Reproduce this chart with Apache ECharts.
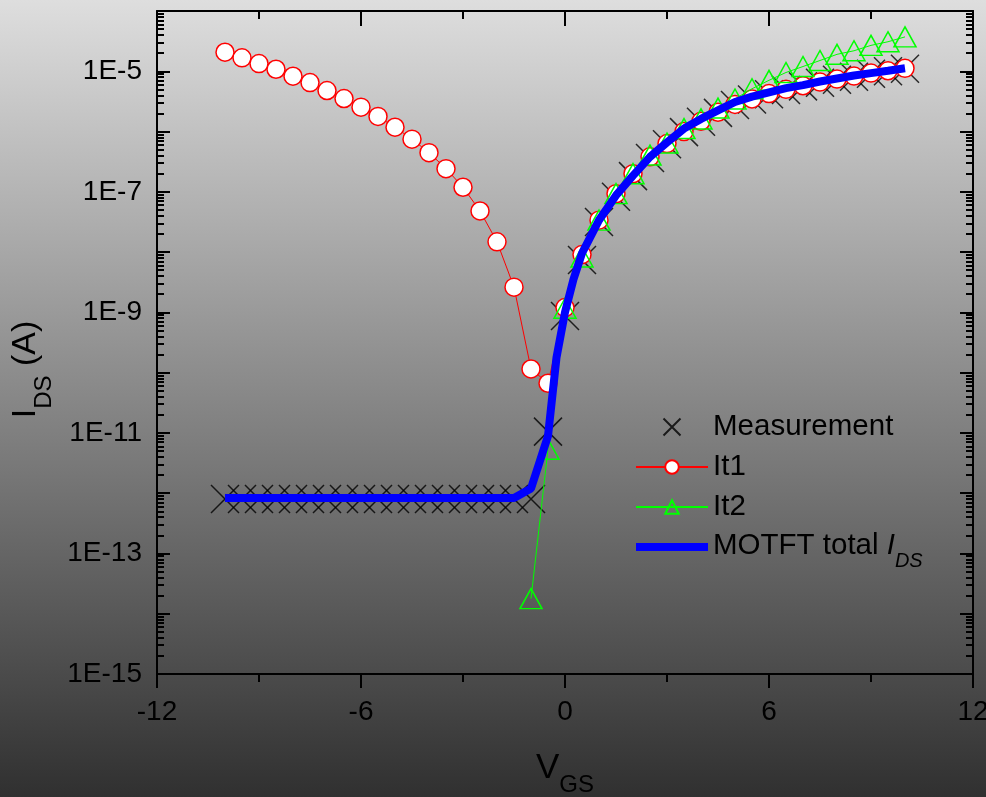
<!DOCTYPE html>
<html><head><meta charset="utf-8">
<script src="https://cdn.jsdelivr.net/npm/echarts@6/dist/echarts.min.js"></script>
<style>html,body{margin:0;padding:0;}#c{width:986px;height:797px;}</style>
</head><body><div id="c"></div>
<script>
// ---- data ----
const vgs = [-10,-9.5,-9,-8.5,-8,-7.5,-7,-6.5,-6,-5.5,-5,-4.5,-4,-3.5,-3,-2.5,-2,-1.5,-1,-0.5,0,0.5,1,1.5,2,2.5,3,3.5,4,4.5,5,5.5,6,6.5,7,7.5,8,8.5,9,9.5,10];
const measurement = [8.0e-13,8.0e-13,8.0e-13,8.0e-13,8.0e-13,8.0e-13,8.0e-13,8.0e-13,8.0e-13,8.0e-13,8.0e-13,8.0e-13,8.0e-13,8.0e-13,8.0e-13,8.0e-13,8.0e-13,8.0e-13,8.0e-13,1.05e-11,8.7e-10,7.4e-9,3.16e-8,8.3e-8,1.82e-7,3.63e-7,6.17e-7,9.77e-7,1.45e-6,2.04e-6,2.75e-6,3.39e-6,4.17e-6,4.9e-6,5.62e-6,6.46e-6,7.24e-6,8.13e-6,9.12e-6,1.0e-5,1.1e-5];
const it1 = [2.07e-5,1.67e-5,1.34e-5,1.08e-5,8.28e-6,6.50e-6,4.79e-6,3.53e-6,2.54e-6,1.78e-6,1.18e-6,7.48e-7,4.46e-7,2.42e-7,1.19e-7,4.81e-8,1.48e-8,2.62e-9,1.15e-10,6.67e-11,1.20e-9,9.1e-9,3.39e-8,9.33e-8,2.0e-7,3.8e-7,6.31e-7,1.0e-6,1.48e-6,2.09e-6,2.82e-6,3.47e-6,4.27e-6,5.01e-6,5.75e-6,6.61e-6,7.41e-6,8.32e-6,9.33e-6,1.02e-5,1.12e-5];
const it2 = [null,null,null,null,null,null,null,null,null,null,null,null,null,null,null,null,null,null,1.78e-14,5.37e-12,1.17e-9,8.3e-9,3.39e-8,9.33e-8,2.0e-7,4.07e-7,6.46e-7,1.12e-6,1.62e-6,2.45e-6,3.47e-6,5.13e-6,7.08e-6,9.55e-6,1.20e-5,1.51e-5,1.91e-5,2.19e-5,2.69e-5,3.09e-5,3.72e-5];
const vgsTotal = [-10,-9.5,-9,-8.5,-8,-7.5,-7,-6.5,-6,-5.5,-5,-4.5,-4,-3.5,-3,-2.5,-2,-1.5,-1,-0.5,-0.25,0,0.25,0.5,1,1.5,2,2.5,3,3.5,4,4.5,5,5.5,6,6.5,7,7.5,8,8.5,9,9.5,10];
const total = [8.3e-13,8.3e-13,8.3e-13,8.3e-13,8.3e-13,8.3e-13,8.3e-13,8.3e-13,8.3e-13,8.3e-13,8.3e-13,8.3e-13,8.3e-13,8.3e-13,8.3e-13,8.3e-13,8.3e-13,8.3e-13,1.2e-12,8.9e-12,1.78e-10,1.0e-9,3.55e-9,9.55e-9,3.39e-8,8.7e-8,1.86e-7,3.8e-7,6.6e-7,1.12e-6,1.62e-6,2.24e-6,3.09e-6,3.8e-6,4.47e-6,5.25e-6,5.89e-6,6.76e-6,7.59e-6,8.51e-6,9.33e-6,1.02e-5,1.12e-5];
const xTickValues = [-12,-6,0,6,12];
const yLabelValues = [1e-15,1e-13,1e-11,1e-9,1e-7,1e-5];
const yMajorValues = [1e-15,1e-14,1e-13,1e-12,1e-11,1e-10,1e-9,1e-8,1e-7,1e-6,1e-5,1e-4];
const legendNames = ['Measurement','It1','It2','MOTFT total IDS'];

// ---- helpers ----
function pairs(xs, ys){ const out=[]; for(let i=0;i<xs.length;i++){ if(ys[i]!=null) out.push([xs[i],ys[i]]); } return out; }
const yMinorValues = [];
for (let e=-15; e<-4; e++){ for (let k=2;k<=9;k++){ yMinorValues.push(Number((k*Math.pow(10,e)).toPrecision(3))); } }
const FONT = '"Liberation Sans", Arial, sans-serif';
const YMIN = 1e-15, YMAX = 1e-4;

function yAxisBase(pos, tickVals, len, showLine, labels){
  return {
    type:'log', logBase:10, min:YMIN, max:YMAX, position:pos,
    axisLine:{show:showLine, onZero:false, lineStyle:{color:'#000', width:2}},
    axisTick:{show:true, inside:true, length:len, customValues:tickVals, lineStyle:{color:'#000', width:2}},
    axisLabel: labels ? {show:true, customValues:yLabelValues, margin:15, fontSize:28, color:'#000', fontFamily:FONT,
      formatter: v => '1E' + Math.round(Math.log10(v))} : {show:false},
    splitLine:{show:false}, minorTick:{show:false}
  };
}

const chart = echarts.init(document.getElementById('c'), null, {renderer:'canvas'});
const option = {
  animation:false,
  backgroundColor:{type:'linear', x:0, y:0, x2:0, y2:1, colorStops:[{offset:0,color:'#dedede'},{offset:1,color:'#303030'}]},
  textStyle:{fontFamily:FONT},
  grid:{left:157, top:11, width:816, height:663, containLabel:false, outerBoundsMode:'none'},
  legend:{
    orient:'vertical', left:630, top:402, itemWidth:72, itemHeight:17, itemGap:0,
    data:[
      {name:'Measurement'},
      {name:'It1'},
      {name:'It2'},
      {name:'MOTFT total IDS', icon:'path://M0,0H72V8H0Z', itemStyle:{color:'#0000ff'}}
    ],
    textStyle:{fontSize:29.5, color:'#000', fontFamily:FONT, lineHeight:40,
      rich:{
        m:{fontSize:29.5, fontFamily:FONT, color:'#000', verticalAlign:'top', lineHeight:34, padding:[4,0,0,0]},
        i:{fontSize:29.5, fontStyle:'italic', fontFamily:FONT, color:'#000', verticalAlign:'top', lineHeight:34, padding:[4,0,0,0]},
        s:{fontSize:20, fontStyle:'italic', fontFamily:FONT, color:'#000', verticalAlign:'top', padding:[24,0,0,0]}
      }},
    formatter: n => n === 'MOTFT total IDS' ? '{m|MOTFT total }{i|I}{s|DS}' : n
  },
  xAxis:[
    {type:'value', min:-12, max:12, interval:6, position:'bottom',
     axisLine:{show:true, onZero:false, lineStyle:{color:'#000', width:2}},
     axisTick:{show:true, inside:false, length:14, lineStyle:{color:'#000', width:2}},
     minorTick:{show:true, splitNumber:2, length:8, lineStyle:{color:'#000', width:2}},
     axisLabel:{show:true, fontSize:28, margin:24, color:'#000', fontFamily:FONT},
     splitLine:{show:false},
     name:'{v|V}{s|GS}', nameLocation:'middle', nameGap:77,
     nameTextStyle:{rich:{
       v:{fontSize:35, color:'#000', fontFamily:FONT, verticalAlign:'top', lineHeight:36},
       s:{fontSize:24, color:'#000', fontFamily:FONT, verticalAlign:'top', padding:[22,0,0,0]}
     }}
    },
    {type:'value', min:-12, max:12, interval:6, position:'top',
     axisLine:{show:true, onZero:false, lineStyle:{color:'#000', width:2}},
     axisTick:{show:true, inside:true, length:15, lineStyle:{color:'#000', width:2}},
     minorTick:{show:true, splitNumber:2, length:8, lineStyle:{color:'#000', width:2}},
     axisLabel:{show:false}, splitLine:{show:false}}
  ],
  yAxis:[
    Object.assign(yAxisBase('left', yMajorValues, 13, true, true), {
      name:'{a|I}{b|DS}{c| (A)}', nameLocation:'middle', nameRotate:90, nameGap:100,
      nameTextStyle:{rich:{
        a:{fontSize:34, color:'#000', fontFamily:FONT, verticalAlign:'top', lineHeight:36},
        b:{fontSize:24, color:'#000', fontFamily:FONT, verticalAlign:'top', padding:[24,0,0,0]},
        c:{fontSize:34, color:'#000', fontFamily:FONT, verticalAlign:'top', lineHeight:36, padding:[0,54,0,0]}
      }}
    }),
    yAxisBase('left', yMinorValues, 7, false, false),
    yAxisBase('right', yMajorValues, 13, true, false),
    yAxisBase('right', yMinorValues, 7, false, false)
  ],
  series:[
    {name:'Measurement', type:'scatter', xAxisIndex:0, yAxisIndex:0,
     symbol:'path://M0,0L28,28M28,0L0,28', symbolSize:28,
     itemStyle:{color:'rgba(0,0,0,0)', borderColor:'#000', borderWidth:1.5},
     data:pairs(vgs, measurement), z:2},
    {name:'It1', type:'line', xAxisIndex:0, yAxisIndex:0,
     symbol:'circle', symbolSize:18, showSymbol:true, showAllSymbol:true,
     lineStyle:{color:'#ff0000', width:1},
     itemStyle:{color:'#ffffff', borderColor:'#ff0000', borderWidth:1.5},
     data:pairs(vgs, it1), z:3},
    {name:'It2', type:'line', xAxisIndex:0, yAxisIndex:0,
     symbol:'triangle', symbolSize:[22,20], showSymbol:true, showAllSymbol:true,
     lineStyle:{color:'#00ff00', width:1},
     itemStyle:{color:'rgba(0,0,0,0)', borderColor:'#00ff00', borderWidth:1.5},
     data:pairs(vgs, it2), z:4},
    {name:'MOTFT total IDS', type:'line', xAxisIndex:0, yAxisIndex:0,
     symbol:'none', lineStyle:{color:'#0000ff', width:8},
     itemStyle:{color:'#0000ff'},
     data:pairs(vgsTotal, total), z:5}
  ]
};
chart.setOption(option);
</script>
</body></html>
